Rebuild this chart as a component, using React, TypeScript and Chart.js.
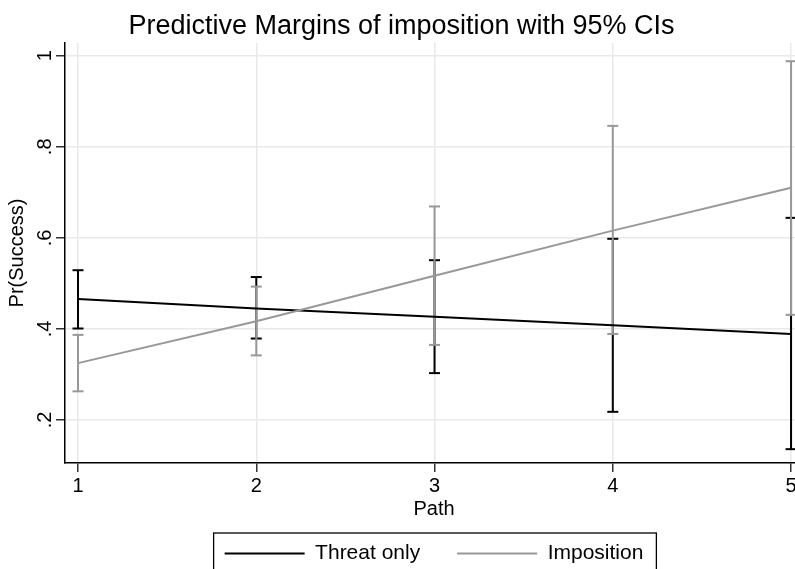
import React, { useEffect, useRef } from "react";
import { Chart, registerables } from "chart.js";

Chart.register(...registerables);

const chartTitle = "Predictive Margins of imposition with 95% CIs";
const xAxisTitle = "Path";
const yAxisTitle = "Pr(Success)";
const seriesNames = ["Threat only", "Imposition"];

const paths = [1, 2, 3, 4, 5];
const threatMargin = [0.466, 0.445, 0.427, 0.408, 0.389];
const threatLower = [0.401, 0.379, 0.303, 0.218, 0.136];
const threatUpper = [0.529, 0.514, 0.551, 0.598, 0.644];
const impositionMargin = [0.325, 0.417, 0.517, 0.616, 0.71];
const impositionLower = [0.263, 0.342, 0.365, 0.389, 0.431];
const impositionUpper = [0.387, 0.493, 0.669, 0.846, 0.988];

const xTicks = [1, 2, 3, 4, 5];
const xTickLabels = ["1", "2", "3", "4", "5"];
const yTicks = [0.2, 0.4, 0.6, 0.8, 1];
const yTickLabels = [".2", ".4", ".6", ".8", "1"];

const X_MIN = 0.927;
const X_MAX = 5.067;
const Y_MIN = 0.1056;
const Y_MAX = 1.028;

const BLACK = "#000000";
const GRAY = "#989898";
const GRID = "#e9e9e9";
const FONT = '"Liberation Sans", Arial, Helvetica, sans-serif';

function ciData(lo: number[], hi: number[]) {
  return paths.flatMap((x, i) => [
    { x, y: lo[i] },
    { x, y: hi[i] },
    { x, y: null as any },
  ]);
}
function lineData(vals: number[]) {
  return paths.map((x, i) => ({ x, y: vals[i] }));
}

const legendBoxPlugin = {
  id: "legendBox",
  afterDraw(chart: any) {
    const lg = chart.legend;
    if (!lg || !lg.legendHitBoxes || !lg.legendHitBoxes.length) return;
    const hb = lg.legendHitBoxes;
    const first = hb[0];
    const last = hb[hb.length - 1];
    const left = first.left - 11;
    const right = last.left + last.width + 13;
    const top = first.top - 10;
    const bottom = top + 44;
    const ctx = chart.ctx;
    ctx.save();
    ctx.strokeStyle = "#000";
    ctx.lineWidth = 1.3;
    ctx.strokeRect(left, top, right - left, bottom - top);
    ctx.restore();
  },
};

export default function App() {
  const ref = useRef<HTMLCanvasElement>(null);

  useEffect(() => {
    if (!ref.current) return;
    Chart.defaults.font.family = FONT;
    const gridOpts = {
      color: GRID,
      lineWidth: 1.5,
      drawTicks: true,
      tickLength: 9,
      tickColor: "#333",
      tickWidth: 1.5,
    };
    const chart = new Chart(ref.current, {
      type: "line",
      data: {
        datasets: [
          {
            label: "",
            data: ciData(threatLower, threatUpper),
            borderColor: BLACK,
            backgroundColor: BLACK,
            borderWidth: 2,
            showLine: true,
            spanGaps: false,
            pointStyle: "line",
            pointRadius: 5.5,
            pointBorderWidth: 2,
            pointBorderColor: BLACK,
            order: 4,
          } as any,
          {
            label: "",
            data: ciData(impositionLower, impositionUpper),
            borderColor: GRAY,
            backgroundColor: GRAY,
            borderWidth: 2,
            showLine: true,
            spanGaps: false,
            pointStyle: "line",
            pointRadius: 5.5,
            pointBorderWidth: 2,
            pointBorderColor: GRAY,
            order: 3,
          } as any,
          {
            label: seriesNames[0],
            data: lineData(threatMargin),
            borderColor: BLACK,
            backgroundColor: BLACK,
            borderWidth: 2,
            pointRadius: 0,
            order: 2,
          },
          {
            label: seriesNames[1],
            data: lineData(impositionMargin),
            borderColor: GRAY,
            backgroundColor: GRAY,
            borderWidth: 2,
            pointRadius: 0,
            order: 1,
          },
        ],
      },
      options: {
        responsive: false,
        animation: false,
        events: [],
        layout: { padding: { left: 0, right: 8, top: 0, bottom: 0 } },
        plugins: {
          title: {
            display: true,
            text: chartTitle,
            color: "#000",
            font: { size: 27, weight: "normal" as any },
            padding: { top: 10, bottom: 0.6 },
          },
          legend: {
            display: true,
            position: "bottom",
            fullSize: false,
            labels: {
              usePointStyle: true,
              pointStyle: "line",
              pointStyleWidth: 80,
              color: "#000",
              font: { size: 21 },
              padding: 37,
              filter: (item: any) => !!item.text,
              sort: (a: any, b: any) => a.datasetIndex - b.datasetIndex,
            },
          } as any,
          tooltip: { enabled: false },
        },
        scales: {
          x: {
            type: "linear",
            min: X_MIN,
            max: X_MAX,
            afterBuildTicks: (s: any) => {
              s.ticks = xTicks.map((v) => ({ value: v }));
            },
            afterFit: (s: any) => {
              s.height = 43;
            },
            grid: gridOpts,
            border: { color: "#000", width: 1.5 },
            ticks: {
              color: "#000",
              font: { size: 20 },
              padding: 2,
              maxRotation: 0,
              autoSkip: false,
              callback: (_v: any, i: number) => xTickLabels[i],
            },
            title: {
              display: true,
              text: xAxisTitle,
              color: "#000",
              font: { size: 20 },
              padding: { top: 0, bottom: -15 },
            },
          } as any,
          y: {
            type: "linear",
            min: Y_MIN,
            max: Y_MAX,
            afterBuildTicks: (s: any) => {
              s.ticks = yTicks.map((v) => ({ value: v }));
            },
            afterFit: (s: any) => {
              s.width = 65;
            },
            grid: gridOpts,
            border: { color: "#000", width: 1.5 },
            ticks: {
              color: "#000",
              font: { size: 20 },
              padding: 2,
              minRotation: 90,
              maxRotation: 90,
              crossAlign: "center",
              autoSkip: false,
              callback: (_v: any, i: number) => yTickLabels[i],
            },
            title: {
              display: true,
              text: yAxisTitle,
              color: "#000",
              font: { size: 20 },
              padding: { top: 5.5, bottom: 0 },
            },
          } as any,
        },
      },
      plugins: [legendBoxPlugin],
    });
    return () => chart.destroy();
  }, []);

  return (
    <div
      style={{
        position: "fixed",
        left: 0,
        top: 0,
        width: 795,
        height: 569,
        overflow: "hidden",
        background: "#fff",
      }}
    >
      <canvas
        ref={ref}
        width={811}
        height={574}
        style={{ position: "absolute", left: 0, top: 0, width: 811, height: 574 }}
      />
    </div>
  );
}
